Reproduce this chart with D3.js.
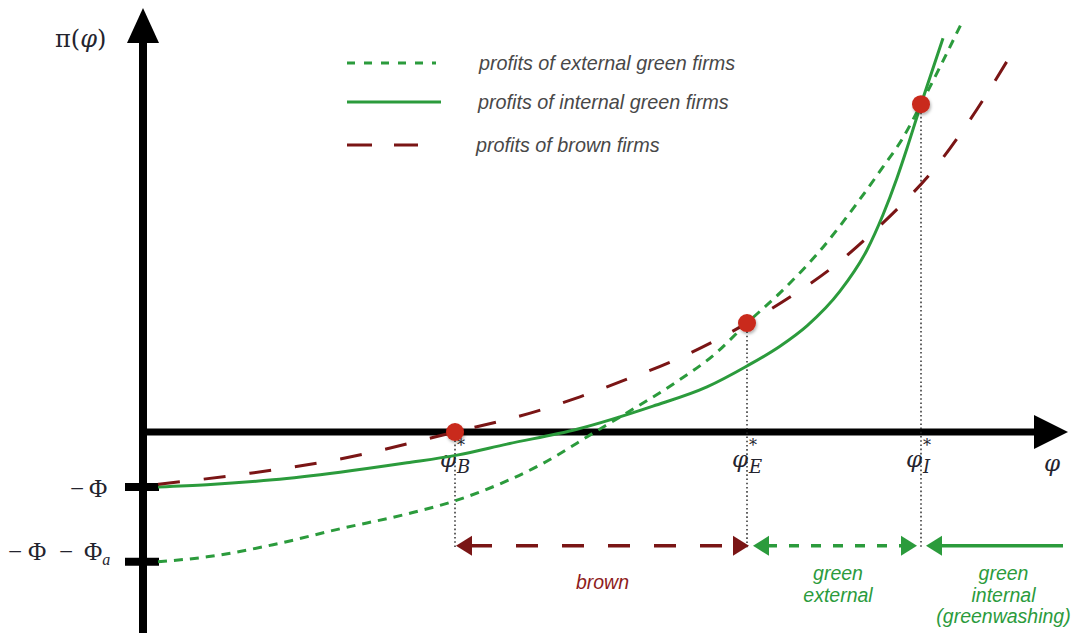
<!DOCTYPE html>
<html>
<head>
<meta charset="utf-8">
<script src="https://cdn.jsdelivr.net/npm/d3@7"></script>
<style>
  html, body { margin: 0; padding: 0; background: #fff; }
  svg { display: block; }
</style>
</head>
<body>
<svg id="chart" width="1080" height="633"></svg>
<script>
// Profit π(φ) of each firm type as a function of productivity φ (model units).
const externalPhi = [0.13, 0.62, 1.28, 1.95, 2.62, 3.12, 3.35, 3.95, 4.50, 4.82, 5.28, 5.72, 6.02, 6.35, 6.78, 7.12, 7.38, 7.58, 7.76, 8.17];
const externalPi  = [-2.36, -2.27, -2.05, -1.76, -1.49, -1.24, -1.09, -0.60, 0.00, 0.35, 0.87, 1.45, 1.98, 2.53, 3.36, 4.16, 4.82, 5.35, 5.96, 7.45];

const internalPhi = [0.13, 0.62, 1.28, 1.95, 2.62, 3.12, 3.62, 4.32, 5.08, 5.62, 6.02, 6.35, 6.62, 6.95, 7.22, 7.38, 7.52, 7.62, 7.76, 7.98];
const internalPi  = [-1.00, -0.96, -0.87, -0.73, -0.56, -0.42, -0.22, 0.05, 0.47, 0.82, 1.20, 1.56, 1.93, 2.56, 3.31, 3.95, 4.62, 5.16, 5.96, 7.16];

const brownPhi = [0.13, 1.05, 1.95, 3.10, 3.92, 4.35, 4.82, 5.25, 5.68, 6.02, 6.48, 6.88, 7.23, 7.58, 7.90, 8.18, 8.70];
const brownPi  = [-0.95, -0.75, -0.49, 0.00, 0.38, 0.64, 0.96, 1.27, 1.64, 1.98, 2.49, 3.00, 3.55, 4.16, 4.80, 5.49, 6.98];

// Productivity cut-offs φ*_B, φ*_E, φ*_I
const cutoffNames = ["B", "E", "I"];
const cutoffPhi   = [3.10, 6.02, 7.76];
const cutoffPi    = [0.00, 1.98, 5.96];

// Fixed costs on the vertical axis
const PHI_FIXED = 1.00;
const PHI_A = 1.36;
const yTickValues = [-PHI_FIXED, -PHI_FIXED - PHI_A];

const legendLabels = ["profits of external green firms", "profits of internal green firms", "profits of brown firms"];
const regionLabels = [["brown"], ["green", "external"], ["green", "internal", "(greenwashing)"]];

const GREEN = "#2b9b3c";
const BROWN = "#7a1515";
const BROWN_TEXT = "#8e1c1c";
const RED = "#c9291b";
const MATH = "#24242e";

const svg = d3.select("#chart");
const x = d3.scaleLinear().domain([0, 9.2]).range([145, 1065]);
const y = d3.scaleLinear().domain([-3.6, 7.8]).range([630, 3]);

const defs = svg.append("defs");
const shadow = defs.append("filter").attr("id", "dotShadow")
  .attr("x", "-60%").attr("y", "-60%").attr("width", "220%").attr("height", "220%");
shadow.append("feDropShadow").attr("dx", 1).attr("dy", 2).attr("stdDeviation", 1.6)
  .attr("flood-color", "#000").attr("flood-opacity", 0.3);

// ---- axes ----
const axes = svg.append("g");
const ax = x(0) - 2, y0 = y(0);
axes.append("line").attr("x1", ax).attr("x2", ax).attr("y1", 633).attr("y2", 38)
  .attr("stroke", "#000").attr("stroke-width", 8);
axes.append("path").attr("d", `M${ax},8 L${ax - 16},43 L${ax + 16},43 Z`).attr("fill", "#000");

axes.append("line").attr("x1", ax).attr("x2", 1038).attr("y1", y0).attr("y2", y0)
  .attr("stroke", "#000").attr("stroke-width", 7);
axes.append("path").attr("d", `M1068,${y0} L1034,${y0 - 17} L1034,${y0 + 17} Z`).attr("fill", "#000");

axes.selectAll("line.ytick").data(yTickValues).join("line").attr("class", "ytick")
  .attr("x1", ax - 18).attr("x2", ax + 16)
  .attr("y1", d => y(d)).attr("y2", d => y(d))
  .attr("stroke", "#000").attr("stroke-width", 8);

// tick labels −Φ and −Φ − Φa
const serif = "Liberation Serif, serif";
const tl1 = svg.append("text").attr("y", y(yTickValues[0]) + 10)
  .attr("font-family", serif).attr("font-size", 25).attr("fill", MATH);
tl1.append("tspan").attr("x", 70).text("−");
tl1.append("tspan").attr("x", 89).text("Φ");

const tl2 = svg.append("text").attr("y", y(yTickValues[1]) - 2)
  .attr("font-family", serif).attr("font-size", 25).attr("fill", MATH);
tl2.append("tspan").attr("x", 8).text("−");
tl2.append("tspan").attr("x", 28).text("Φ");
tl2.append("tspan").attr("x", 59).text("−");
tl2.append("tspan").attr("x", 84).text("Φ");
tl2.append("tspan").attr("font-style", "italic").attr("font-size", 16).attr("dy", 5).text("a");

// axis titles
const yt = svg.append("text").attr("x", 55).attr("y", 47)
  .attr("font-family", "DejaVu Serif, serif").attr("font-size", 24).attr("fill", MATH);
yt.append("tspan").text("π(");
yt.append("tspan").attr("font-style", "italic").text("φ");
yt.append("tspan").text(")");

svg.append("text").attr("x", 1044).attr("y", 471)
  .attr("font-family", "DejaVu Serif, serif").attr("font-style", "italic")
  .attr("font-size", 23).attr("fill", MATH).text("φ");

// ---- vertical guide lines from the cut-offs ----
const arrowLevel = -2.07;
svg.append("g").selectAll("line").data(cutoffPhi).join("line")
  .attr("x1", d => x(d)).attr("x2", d => x(d))
  .attr("y1", (d, i) => y(cutoffPi[i])).attr("y2", y(arrowLevel) + 3)
  .attr("stroke", "#222").attr("stroke-width", 1.4).attr("stroke-dasharray", "1.6,2.6");

// cut-off labels φ* with stacked superscript and subscript
const cutLabels = svg.append("g").attr("fill", MATH).attr("font-family", "DejaVu Serif, serif");
cutoffPhi.forEach((p, i) => {
  const cx = x(p);
  const t = cutLabels.append("text").attr("x", cx - 15).attr("y", y0 + 35);
  t.append("tspan").attr("font-style", "italic").attr("font-size", 23).text("φ");
  t.append("tspan").attr("x", cx + 2).attr("dy", -16).attr("font-size", 16).text("*");
  t.append("tspan").attr("x", cx + 2).attr("dy", 22)
    .attr("font-style", "italic").attr("font-size", 18).text(cutoffNames[i]);
});

// ---- profit curves ----
const line = d3.line().x(d => x(d[0])).y(d => y(d[1])).curve(d3.curveMonotoneX);
const curves = [
  { phi: externalPhi, pi: externalPi, color: GREEN, dash: "9,7" },
  { phi: internalPhi, pi: internalPi, color: GREEN, dash: null },
  { phi: brownPhi, pi: brownPi, color: BROWN, dash: "22,24" }
];
svg.append("g").selectAll("path").data(curves).join("path")
  .attr("d", c => line(d3.zip(c.phi, c.pi)))
  .attr("fill", "none").attr("stroke", c => c.color).attr("stroke-width", 3)
  .attr("stroke-dasharray", c => c.dash);

// equilibrium points
svg.append("g").selectAll("circle").data(cutoffPhi).join("circle")
  .attr("cx", d => x(d)).attr("cy", (d, i) => y(cutoffPi[i])).attr("r", 9)
  .attr("fill", RED).attr("filter", "url(#dotShadow)");

// ---- legend ----
const sans = "Liberation Sans, Arial, sans-serif";
const legend = svg.append("g");
const legendRows = [
  { y: 63, color: GREEN, dash: "8,9", x2: 436, tx: 479 },
  { y: 102, color: GREEN, dash: null, x2: 441, tx: 478 },
  { y: 145, color: BROWN, dash: "25,22", x2: 418, tx: 476 }
];
legendRows.forEach((r, i) => {
  legend.append("line").attr("x1", 347).attr("x2", r.x2).attr("y1", r.y).attr("y2", r.y)
    .attr("stroke", r.color).attr("stroke-width", 3).attr("stroke-dasharray", r.dash);
  legend.append("text").attr("x", r.tx).attr("y", r.y + 7)
    .attr("font-family", sans).attr("font-style", "italic")
    .attr("font-size", 19.8).attr("fill", "#484848").text(legendLabels[i]);
});

// ---- regime arrows along the bottom ----
const ay = y(arrowLevel);
const head = 16, half = 10;
function arrowHead(g, tip, dir, color) {
  g.append("path")
    .attr("d", `M${tip},${ay} L${tip - dir * head},${ay - half} L${tip - dir * head},${ay + half} Z`)
    .attr("fill", color);
}
const arrows = svg.append("g");
const regimes = [
  { from: x(cutoffPhi[0]) + 1, to: x(cutoffPhi[1]) + 2, color: BROWN, dash: "22,24", heads: [-1, 1] },
  { from: x(cutoffPhi[1]) + 6, to: x(cutoffPhi[2]) - 4, color: GREEN, dash: "10,12", heads: [-1, 1] },
  { from: x(cutoffPhi[2]) + 5, to: x(9.18), color: GREEN, dash: null, heads: [-1] }
];
regimes.forEach(r => {
  const a = r.heads.includes(-1) ? r.from + head - 2 : r.from;
  const b = r.heads.includes(1) ? r.to - head + 2 : r.to;
  arrows.append("line").attr("x1", a).attr("x2", b).attr("y1", ay).attr("y2", ay)
    .attr("stroke", r.color).attr("stroke-width", 3.5).attr("stroke-dasharray", r.dash);
  if (r.heads.includes(-1)) arrowHead(arrows, r.from, -1, r.color);
  if (r.heads.includes(1)) arrowHead(arrows, r.to, 1, r.color);
});

// regime labels
const labelCenters = [
  (regimes[0].from + regimes[0].to) / 2,
  (regimes[1].from + regimes[1].to) / 2 + 3,
  (regimes[2].from + regimes[2].to) / 2 + 9
];
const labelTops = [589, 580, 580];
const labelColors = [BROWN_TEXT, GREEN, GREEN];
regionLabels.forEach((lines, i) => {
  const t = svg.append("text").attr("text-anchor", "middle")
    .attr("font-family", sans).attr("font-style", "italic")
    .attr("font-size", 19.5).attr("fill", labelColors[i]);
  lines.forEach((s, k) => {
    t.append("tspan").attr("x", labelCenters[i]).attr("y", labelTops[i] + k * 21.5).text(s);
  });
});
</script>
</body>
</html>
